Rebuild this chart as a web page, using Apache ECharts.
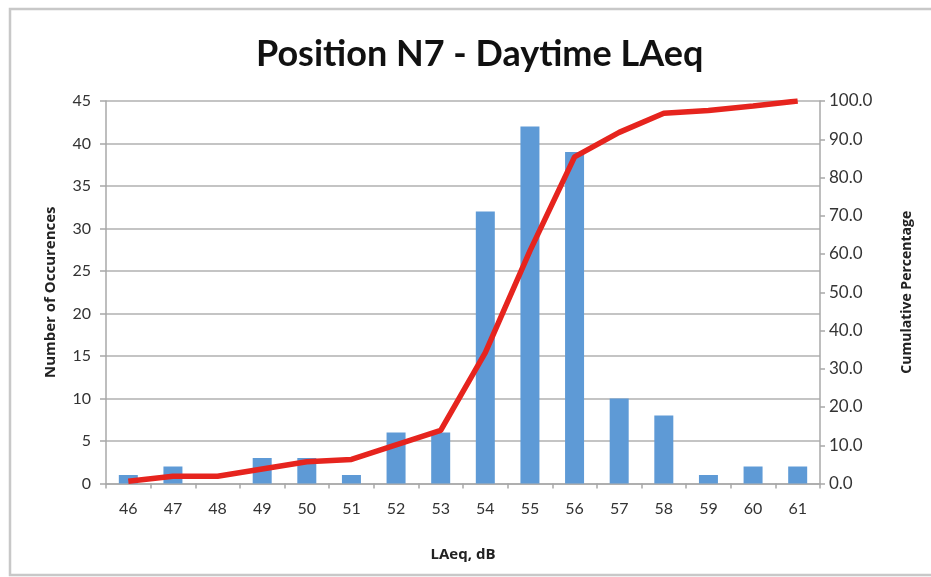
<!DOCTYPE html>
<html>
<head>
<meta charset="utf-8">
<script src="https://cdn.jsdelivr.net/npm/echarts@6/dist/echarts.min.js"></script>
<style>
  html, body { margin: 0; padding: 0; background: #fff; overflow: hidden; }
  #chart { width: 931px; height: 577px; }
</style>
</head>
<body>
<div id="chart"></div>
<script>
// LAeq bins (dB)
const levels = ['46','47','48','49','50','51','52','53','54','55','56','57','58','59','60','61'];
// Number of occurrences per bin
const occurrences = [1, 2, 0, 3, 3, 1, 6, 6, 32, 42, 39, 10, 8, 1, 2, 2];
// Cumulative percentage
const cumulative = [0.6, 1.9, 1.9, 3.8, 5.7, 6.3, 10.1, 13.9, 34.2, 60.8, 85.4, 91.8, 96.8, 97.5, 98.7, 100.0];

const FONT = 'Lato, "DejaVu Sans", sans-serif';
const NAME_FONT = '"Open Sans", Lato, sans-serif';
const chart = echarts.init(document.getElementById('chart'), null, { renderer: 'canvas' });

chart.setOption({
  backgroundColor: '#ffffff',
  animation: false,
  graphic: [{
    type: 'rect',
    shape: { x: 10, y: 9, width: 1000, height: 566 },
    style: { fill: 'none', stroke: '#c8c8c8', lineWidth: 2.5 },
    silent: true
  }],
  title: {
    text: 'Position N7 - Daytime LAeq',
    left: 251,
    top: 31,
    textStyle: { fontFamily: FONT, fontSize: 36, fontWeight: 'bold', color: '#111' }
  },
  grid: { left: 106, right: 111, top: 101, bottom: 93.5 },
  xAxis: {
    type: 'category',
    data: levels,
    name: 'LAeq, dB',
    nameLocation: 'middle',
    nameGap: 64,
    nameTextStyle: { fontFamily: NAME_FONT, fontSize: 15, fontWeight: 'bold', color: '#222' },
    axisLine: { lineStyle: { color: '#a8a8a8', width: 1.5 } },
    axisTick: { show: true, alignWithLabel: false, length: 5, lineStyle: { color: '#a8a8a8', width: 1.5 } },
    axisLabel: { fontFamily: FONT, fontSize: 16, color: '#333', margin: 17 }
  },
  yAxis: [{
    type: 'value',
    min: 0, max: 45, interval: 5,
    name: 'Number of Occurences',
    nameLocation: 'middle',
    nameGap: 48,
    nameRotate: 90,
    nameTextStyle: { fontFamily: NAME_FONT, fontSize: 15, fontWeight: 'bold', color: '#222' },
    axisLine: { show: true, lineStyle: { color: '#a8a8a8', width: 1.5 } },
    axisTick: { show: true, length: 6, lineStyle: { color: '#a8a8a8', width: 1.5 } },
    axisLabel: { fontFamily: FONT, fontSize: 16, color: '#333', margin: 15 },
    splitLine: { show: true, lineStyle: { color: '#c4c4c4', width: 1.8 } }
  }, {
    type: 'value',
    min: 0, max: 100, interval: 10,
    position: 'right',
    name: 'Cumulative Percentage',
    nameLocation: 'middle',
    nameGap: 80,
    nameRotate: 90,
    nameTextStyle: { fontFamily: NAME_FONT, fontSize: 14, fontWeight: 'bold', color: '#222' },
    axisLine: { show: true, lineStyle: { color: '#a8a8a8', width: 1.5 } },
    axisTick: { show: true, length: 5, lineStyle: { color: '#a8a8a8', width: 1.5 } },
    axisLabel: {
      fontFamily: FONT, fontSize: 17, color: '#333', margin: 9,
      formatter: v => v.toFixed(1)
    },
    splitLine: { show: false }
  }],
  series: [{
    name: 'Occurrences',
    type: 'bar',
    data: occurrences,
    yAxisIndex: 0,
    barWidth: 19,
    itemStyle: { color: '#5e9ad6' }
  }, {
    name: 'Cumulative',
    type: 'line',
    data: cumulative,
    yAxisIndex: 1,
    symbol: 'none',
    smooth: false,
    lineStyle: { color: '#e6241e', width: 5.5 },
    z: 5
  }]
});
</script>
</body>
</html>
